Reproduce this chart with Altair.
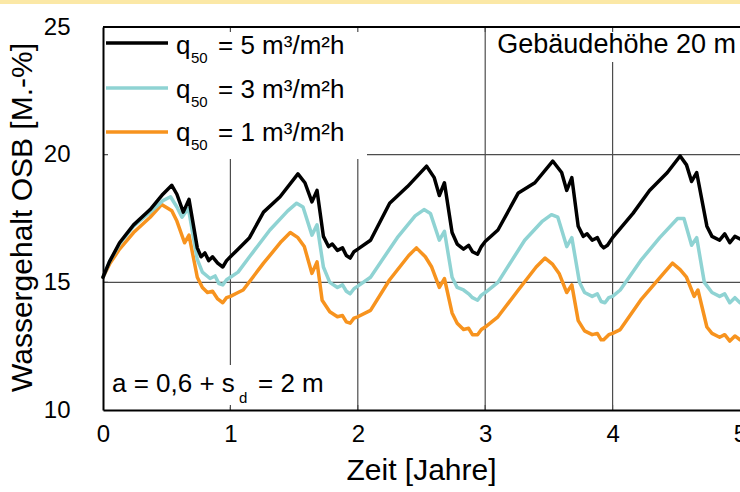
import altair as alt
import pandas as pd

# ---- data ----
series_names = ["q50 = 5 m³/m²h", "q50 = 3 m³/m²h", "q50 = 1 m³/m²h"]
series_colors = ["#000000", "#8fd3d3", "#f7931e"]

t_black = [0.00, 0.05, 0.13, 0.24, 0.37, 0.47, 0.54, 0.58, 0.63, 0.675, 0.74, 0.77, 0.80, 0.83, 0.86, 0.90, 0.94, 0.97,
           1.00, 1.06, 1.15, 1.26, 1.39, 1.53, 1.585, 1.64, 1.68, 1.73, 1.77, 1.80, 1.84, 1.88, 1.91, 1.94, 1.97,
           2.00, 2.10, 2.25, 2.39, 2.54, 2.60, 2.64, 2.68, 2.74, 2.78, 2.83, 2.87, 2.90, 2.94, 2.97,
           3.00, 3.10, 3.26, 3.39, 3.53, 3.60, 3.64, 3.68, 3.73, 3.77, 3.80, 3.84, 3.88, 3.91, 3.93, 3.96,
           4.00, 4.16, 4.29, 4.43, 4.53, 4.58, 4.62, 4.66, 4.74, 4.78, 4.84, 4.88, 4.92, 4.96, 5.00]
w_black = [15.2, 15.8, 16.55, 17.25, 17.85, 18.45, 18.8, 18.45, 17.75, 18.25, 16.35, 16.0, 16.15, 15.85, 16.0, 15.75, 15.6, 15.85,
           16.0, 16.3, 16.75, 17.75, 18.35, 19.25, 18.9, 18.15, 18.6, 16.8, 16.4, 16.5, 16.25, 16.35, 16.05, 15.95, 16.2,
           16.3, 16.65, 18.1, 18.75, 19.55, 19.1, 18.4, 18.9, 16.95, 16.5, 16.3, 16.45, 16.2, 16.1, 16.4,
           16.6, 17.05, 18.5, 18.9, 19.75, 19.3, 18.6, 19.1, 17.2, 16.8, 16.9, 16.65, 16.75, 16.45, 16.35, 16.45,
           16.75, 17.7, 18.6, 19.3, 19.95, 19.6, 18.95, 19.3, 17.2, 16.8, 16.65, 16.9, 16.55, 16.8, 16.7]

t_cyan = [0.00, 0.05, 0.13, 0.24, 0.37, 0.47, 0.53, 0.58, 0.62, 0.67, 0.74, 0.78, 0.84, 0.88, 0.91, 0.94, 0.97,
          1.00, 1.06, 1.15, 1.31, 1.45, 1.52, 1.57, 1.64, 1.68, 1.73, 1.78, 1.84, 1.88, 1.91, 1.94, 1.97,
          2.00, 2.10, 2.31, 2.45, 2.52, 2.57, 2.64, 2.68, 2.74, 2.78, 2.83, 2.87, 2.90, 2.94, 2.97,
          3.00, 3.10, 3.31, 3.45, 3.52, 3.57, 3.64, 3.68, 3.74, 3.78, 3.84, 3.88, 3.91, 3.94, 3.97,
          4.00, 4.06, 4.22, 4.37, 4.51, 4.56, 4.62, 4.66, 4.72, 4.78, 4.84, 4.88, 4.92, 4.96, 5.00]
w_cyan = [15.2, 15.8, 16.5, 17.2, 17.75, 18.2, 18.35, 17.95, 17.55, 17.9, 15.9, 15.4, 15.15, 15.25, 14.95, 14.9, 15.1,
          15.2, 15.4, 16.0, 17.05, 17.8, 18.1, 17.95, 16.85, 17.25, 15.6, 15.0, 14.8, 14.9, 14.65, 14.55, 14.75,
          14.85, 15.2, 16.75, 17.6, 17.85, 17.7, 16.65, 17.0, 15.2, 14.8, 14.7, 14.55, 14.4, 14.3, 14.5,
          14.6, 15.0, 16.65, 17.4, 17.65, 17.55, 16.4, 16.75, 15.0, 14.6, 14.45, 14.55, 14.25, 14.2, 14.4,
          14.45, 14.7, 15.85, 16.75, 17.5, 17.5, 16.45, 16.75, 15.0, 14.6, 14.45, 14.55, 14.2, 14.4, 14.2]

t_orange = [0.00, 0.055, 0.13, 0.24, 0.37, 0.46, 0.54, 0.58, 0.64, 0.675, 0.74, 0.78, 0.82, 0.86, 0.90, 0.94, 0.97,
            1.00, 1.06, 1.10, 1.26, 1.40, 1.47, 1.53, 1.58, 1.64, 1.68, 1.72, 1.78, 1.84, 1.88, 1.91, 1.94, 1.97,
            2.00, 2.10, 2.25, 2.40, 2.46, 2.53, 2.58, 2.64, 2.68, 2.74, 2.78, 2.83, 2.87, 2.90, 2.94, 2.97,
            3.00, 3.10, 3.26, 3.40, 3.47, 3.53, 3.58, 3.64, 3.68, 3.73, 3.78, 3.84, 3.88, 3.91, 3.93, 3.97,
            4.00, 4.06, 4.22, 4.40, 4.47, 4.53, 4.58, 4.62, 4.64, 4.67, 4.74, 4.78, 4.84, 4.88, 4.92, 4.96, 5.00]
w_orange = [15.2, 15.75, 16.3, 16.95, 17.55, 18.05, 17.8, 17.4, 16.55, 16.85, 15.2, 14.8, 14.6, 14.65, 14.35, 14.2, 14.4,
            14.45, 14.6, 14.7, 15.75, 16.6, 16.95, 16.75, 16.4, 15.35, 15.8, 14.3, 13.85, 13.65, 13.7, 13.45, 13.4, 13.6,
            13.65, 13.9, 15.1, 16.05, 16.35, 16.0, 15.6, 14.8, 15.15, 13.8, 13.4, 13.15, 13.2, 12.95, 12.95, 13.15,
            13.25, 13.65, 14.7, 15.6, 15.95, 15.7, 15.35, 14.6, 14.9, 13.5, 13.1, 12.95, 13.0, 12.75, 12.75, 12.95,
            13.0, 13.15, 14.3, 15.35, 15.75, 15.5, 15.2, 14.7, 14.45, 14.7, 13.25, 13.0, 12.85, 12.95, 12.7, 12.9, 12.75]

x_ticks = [0, 1, 2, 3, 4, 5]
y_ticks = [10, 15, 20, 25]
grid_years = [1, 2, 3, 4]
grid_levels = [15, 20]

FONT = "Liberation Sans"
W, H = 637, 383

x_scale = alt.Scale(domain=[0, 5], nice=False, zero=False)
y_scale = alt.Scale(domain=[10, 25], nice=False, zero=False)

x_axis = alt.Axis(values=x_ticks, format="d", labelFont=FONT, labelFontSize=24, labelColor="black",
                  labelPadding=12, labelFlush=False, labelOverlap=False, ticks=False, grid=False,
                  domainColor="black", domainWidth=2, zindex=2, title="Zeit [Jahre]", titleFont=FONT,
                  titleFontSize=30, titleFontWeight="normal", titleColor="black",
                  titleX=318, titleY=60, titleAlign="center", titleBaseline="middle")
y_axis = alt.Axis(values=y_ticks, format="d", labelFont=FONT, labelFontSize=24, labelColor="black",
                  labelPadding=33, labelOverlap=False, ticks=False, grid=False,
                  domainColor="black", domainWidth=2, zindex=2, title="Wassergehalt OSB [M.-%]", titleFont=FONT,
                  titleFontSize=30, titleFontWeight="normal", titleColor="black",
                  titleX=-81, titleY=190, titleAlign="center", titleBaseline="middle", titleAngle=-90)

X = lambda: alt.X("t:Q", scale=x_scale, axis=x_axis)
Y = lambda: alt.Y("w:Q", scale=y_scale, axis=y_axis)

one = pd.DataFrame({"a": [0]})
GRID = "#4d4d4d"

grid_v = alt.Chart(pd.DataFrame({"t": grid_years})).mark_rule(color=GRID, strokeWidth=1.2).encode(
    x=X(), y=alt.value(0), y2=alt.value(H))
grid_h = alt.Chart(pd.DataFrame({"w": grid_levels})).mark_rule(color=GRID, strokeWidth=1.2).encode(
    y=Y(), x=alt.value(0), x2=alt.value(W))

def series_layer(ts, ws, color):
    return alt.Chart(pd.DataFrame({"t": ts, "w": ws})).mark_line(
        color=color, strokeWidth=3.5, strokeJoin="round", strokeCap="round").encode(x=X(), y=Y())

lines = [series_layer(t_orange, w_orange, series_colors[2]),
         series_layer(t_cyan, w_cyan, series_colors[1]),
         series_layer(t_black, w_black, series_colors[0])]

def box(x0, x1, y0, y1, color="white"):
    return alt.Chart(one).mark_rect(color=color).encode(
        x=alt.value(x0), x2=alt.value(x1), y=alt.value(y0), y2=alt.value(y1))

boxes = [box(1, 264, 1, 132), box(383, W, 1, 35), box(1, 228, 338, 380)]

def txt(s, x, y, size=26, align="left"):
    return alt.Chart(one).mark_text(text=s, font=FONT, fontSize=size, color="black",
                                    align=align, baseline="middle").encode(x=alt.value(x), y=alt.value(y))

texts = []
leg_rows_y = [19, 63, 106]
leg_line_y = [16, 61, 105]
leg_values = ["= 5 m³/m²h", "= 3 m³/m²h", "= 1 m³/m²h"]
leg_lines = []
for ry, ly, val, col in zip(leg_rows_y, leg_line_y, leg_values, series_colors):
    leg_lines.append(alt.Chart(one).mark_rule(color=col, strokeWidth=3.5).encode(
        x=alt.value(3), x2=alt.value(65), y=alt.value(ly)))
    texts.append(txt("q", 73, ry))
    texts.append(txt("50", 88, ry + 12, size=15))
    texts.append(txt(val, 115, ry))

texts.append(txt("Gebäudehöhe 20 m", 633, 18, size=27, align="right"))
texts.append(txt("a = 0,6 + s", 9, 357))
texts.append(txt("d", 136, 371, size=15))
texts.append(txt("= 2 m", 155, 357))

frame_top = alt.Chart(one).mark_rule(color="black", strokeWidth=2).encode(
    x=alt.value(0), x2=alt.value(W), y=alt.value(0))
ticks_top = alt.Chart(pd.DataFrame({"t": grid_years})).mark_rule(color=GRID, strokeWidth=1.2).encode(
    x=X(), y=alt.value(0), y2=alt.value(5))
ticks_bottom = alt.Chart(pd.DataFrame({"t": grid_years})).mark_rule(color=GRID, strokeWidth=1.2).encode(
    x=X(), y=alt.value(H - 5), y2=alt.value(H))
ticks_left = alt.Chart(pd.DataFrame({"w": grid_levels})).mark_rule(color=GRID, strokeWidth=1.2).encode(
    y=Y(), x=alt.value(0), x2=alt.value(5))

strip = alt.Chart(one).mark_rect(color="#fbe8a6").encode(
    x=alt.value(-103), x2=alt.value(W), y=alt.value(-27), y2=alt.value(-23))

chart = alt.layer(
    grid_v, grid_h, *lines, *boxes, *leg_lines, *texts, ticks_top, ticks_bottom, ticks_left, frame_top, strip
).properties(
    width=W, height=H,
    autosize=alt.AutoSizeParams(type="none"),
    padding={"left": 103, "top": 27, "right": 0, "bottom": 82},
    background="white",
).configure_view(stroke=None)

chart.save("out.html", embed_options={"renderer": "svg", "actions": False})
